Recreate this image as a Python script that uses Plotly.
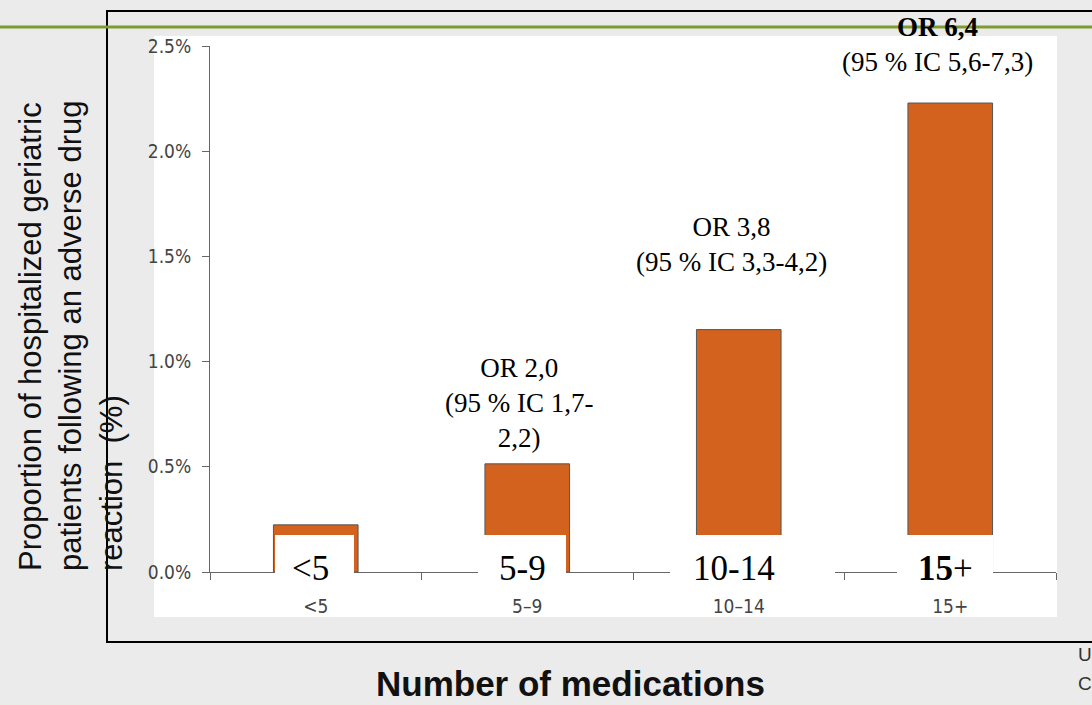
import plotly.graph_objects as go

# Adverse drug reactions by number of medications
categories = ["<5", "5–9", "10–14", "15+"]
box_labels = ["<5", "5-9", "10-14", "<b>15</b>+"]
proportion_pct = [0.224, 0.514, 1.152, 2.229]
odds_notes = [
    "OR 2,0<br>(95 % IC 1,7-<br>2,2)",
    "OR 3,8<br>(95 % IC 3,3-4,2)",
    "<b>OR 6,4</b><br>(95 % IC 5,6-7,3)",
]
y_ticks = [0.0, 0.5, 1.0, 1.5, 2.0, 2.5]
y_tick_text = ["0.0%", "0.5%", "1.0%", "1.5%", "2.0%", "2.5%"]

W, H = 1092, 705
ML, MR, MT, MB = 210, 36, 46, 133
PW, PH = W - ML - MR, H - MT - MB


def xp(px):
    return (px - ML) / PW


def yp(py):
    return (H - MB - py) / PH


fig = go.Figure()
fig.add_trace(go.Bar(
    x=categories, y=proportion_pct, width=0.4,
    marker=dict(color="#D4621F", line=dict(color="#555555", width=1)),
    hoverinfo="skip",
))

shapes = [
    # white chart panel
    dict(type="rect", xref="paper", yref="paper", layer="below",
         x0=xp(154), x1=xp(1057), y0=yp(617), y1=yp(36),
         fillcolor="white", line=dict(width=0)),
    # slide frame
    dict(type="rect", xref="paper", yref="paper", layer="below",
         x0=xp(107), x1=xp(1110), y0=yp(642), y1=yp(11),
         fillcolor="rgba(0,0,0,0)", line=dict(color="black", width=2)),
    # green header rule
    dict(type="line", xref="paper", yref="paper", layer="below",
         x0=xp(-5), x1=xp(1100), y0=yp(27), y1=yp(27),
         line=dict(color="#7f9a2e", width=3)),
]

# white boxes holding the big category labels (pixel extents)
box_spans = [(275, 354), (478, 566), (670, 835), (897, 993)]
for x0, x1 in box_spans:
    shapes.append(dict(type="rect", xref="paper", yref="paper", layer="above",
                       x0=xp(x0), x1=xp(x1), y0=yp(596), y1=yp(535),
                       fillcolor="white", line=dict(width=0)))

annotations = []
for i, lab in enumerate(box_labels):
    annotations.append(dict(
        x=i, xref="x", y=yp(568), yref="paper", text=lab, showarrow=False,
        xshift=-5, xanchor="center", yanchor="middle",
        font=dict(family="Liberation Serif, Times New Roman, serif", size=35, color="black"),
    ))

note_pos = [(519, 403), (731, 245), (937, 44)]
for (px, py), txt in zip(note_pos, odds_notes):
    annotations.append(dict(
        x=xp(px), xref="paper", y=yp(py), yref="paper", text=txt, showarrow=False,
        xanchor="center", yanchor="middle", align="center",
        font=dict(family="Liberation Serif, Times New Roman, serif", size=27, color="black"),
    ))

annotations.append(dict(
    x=xp(71), xref="paper", y=yp(336), yref="paper", textangle=-90,
    text="Proportion of hospitalized geriatric<br>patients following an adverse drug<br>reaction \u00a0(%)",
    showarrow=False, xanchor="center", yanchor="middle", align="left",
    font=dict(family="Liberation Sans, Arial, sans-serif", size=31, color="#111111"),
))
annotations.append(dict(
    x=xp(570), xref="paper", y=yp(683), yref="paper",
    text="<b>Number of medications</b>", showarrow=False,
    xanchor="center", yanchor="middle",
    font=dict(family="Liberation Sans, Arial, sans-serif", size=35, color="#111111"),
))
for txt, py in [("U", 654), ("C", 683)]:
    annotations.append(dict(
        x=xp(1076), xref="paper", y=yp(py), yref="paper", text=txt, showarrow=False,
        xanchor="left", yanchor="middle",
        font=dict(family="Liberation Sans, Arial, sans-serif", size=19, color="#333333"),
    ))

tick_font = dict(family="Liberation Sans Narrow, DejaVu Sans Condensed, Liberation Sans, sans-serif",
                 size=19, color="#444444")

fig.update_layout(
    width=W, height=H,
    margin=dict(l=ML, r=MR, t=MT, b=MB, autoexpand=False),
    paper_bgcolor="#ebebeb", plot_bgcolor="white",
    showlegend=False, bargap=0.6,
    shapes=shapes, annotations=annotations,
    xaxis=dict(
        type="category", range=[-0.5, 3.5], showgrid=False, zeroline=False,
        showline=True, linecolor="#666666", linewidth=1,
        ticks="outside", tickson="boundaries", ticklen=7, tickcolor="#666666",
        tickfont=tick_font, ticklabelstandoff=17, fixedrange=True,
    ),
    yaxis=dict(
        range=[0, 2.5], tickmode="array", tickvals=y_ticks, ticktext=y_tick_text,
        showgrid=False, zeroline=False,
        showline=True, linecolor="#666666", linewidth=1,
        ticks="outside", ticklen=7, tickcolor="#666666",
        tickfont=tick_font, ticklabelstandoff=7, fixedrange=True,
    ),
)

fig.write_html("out.html", config={"displayModeBar": False})
